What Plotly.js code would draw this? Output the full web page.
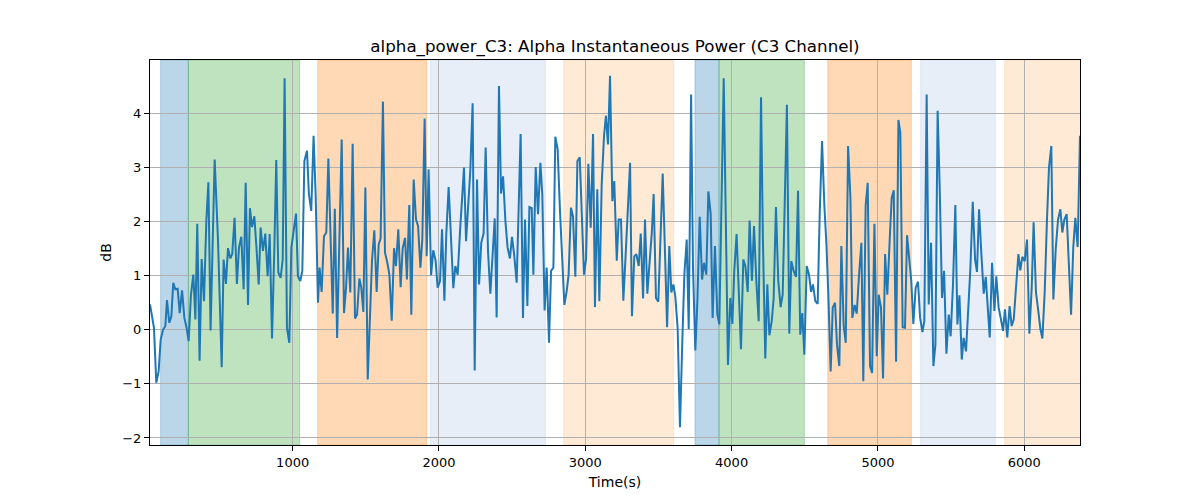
<!DOCTYPE html>
<html>
<head>
<meta charset="utf-8">
<script src="https://cdn.plot.ly/plotly-3.0.1.min.js"></script>
<style>
  html, body { margin: 0; padding: 0; background: #fff; }
  #chart { width: 1200px; height: 500px; }
</style>
</head>
<body>
<div id="chart"></div>
<script>
// time stamps (s)
const times = [
  25,52,68,84,98,114,130,141,157,171,184,198,214,228,244,260,275,289,305,321,335,348,364,378,394,410,424,439,467,490,515,528,544,558,574,587,603,619,633,649,665,
  679,695,708,722,738,754,768,781,797,813,829,843,859,875,888,902,918,932,945,961,977,991,1007,1023,1036,1052,1066,1080,1098,1111,1127,1143,1157,1173,1184,1198,1214,1230,1244,1260,1274,1288,1304,
  1335,1351,1365,1378,1394,1410,1426,1440,1456,1469,1483,1497,1513,1529,1542,1558,1574,1588,1601,1617,1631,1647,1661,1677,1693,1706,1722,1738,1752,1768,1781,1797,1811,1827,1843,1857,1873,1886,1902,1916,1929,
  1946,1961,1977,1991,2007,2021,2037,2050,2066,2082,2098,2112,2128,2144,2157,2171,2185,2201,2214,2230,2244,2260,2274,2289,2305,2319,2335,2351,2367,2381,2394,2410,2424,2438,2454,2469,2485,2499,2515,2531,2558,2574,
  2588,2604,2618,2634,2645,2661,2677,2693,2706,2722,2736,2752,2766,2782,2795,2811,2827,2843,2857,2873,2886,2902,2916,2932,2946,2962,2977,2991,3005,3021,3037,3053,3066,3082,3096,3112,3128,3141,3155,3169,3185,3198,
  3215,3228,3244,3260,3276,3292,3306,3319,3335,3349,3365,3379,3395,3408,3424,3440,3454,3467,3483,3499,3513,3529,3545,3559,3574,3588,3602,3615,3631,3647,3663,3677,3693,3707,3723,3736,3752,3766,3782,3798,3811,3827,3841,
  3857,3870,3886,3902,3916,3946,3959,3975,3991,4005,4018,4034,4048,4064,4080,4094,4110,4123,4139,4153,4169,4185,4201,4214,4230,4244,4258,4274,4287,4303,4319,4335,4349,4362,4378,4394,4408,4424,4440,4454,4469,4483,
  4497,4513,4529,4543,4556,4572,4588,4602,4618,4634,4648,4661,4677,4691,4707,4720,4736,4750,4766,4780,4796,4812,4825,4841,4855,4871,4887,4900,4916,4930,4946,4960,4976,4992,5005,5021,5035,5049,5064,5080,5094,5108,
  5124,5140,5153,5169,5185,5199,5215,5228,5242,5258,5274,5288,5304,5317,5333,5347,5363,5379,5393,5408,5422,5438,5452,5468,5484,5497,5513,5529,5543,5557,5573,5586,5602,5616,5632,5648,5664,5677,5691,5707,5723,5737,5752,
  5764,5780,5796,5809,5825,5839,5855,5868,5884,5900,5914,5928,5944,5960,5973,5987,6003,6019,6035,6051,6064,6080,6096,6110,6124,6140,6155,6169,6185,6199,6215,6231,6247,6260,6274,6290,6304,6320,6335,6349,6365,6381
]

// alpha power (dB)
const power = [
  0.47,0.04,-0.98,-0.77,-0.18,0.0,0.07,0.55,0.13,0.25,0.87,0.75,0.76,0.31,0.73,0.22,0.04,-0.21,0.65,1.02,0.19,1.96,-0.57,1.31,0.53,2.01,2.73,-0.01,3.15,1.64,-0.69,1.30,0.85,1.51,1.32,1.40,2.07,0.85,1.52,1.72,0.75,
  2.72,0.46,2.25,1.90,2.10,1.46,0.84,1.89,1.46,1.78,0.99,1.77,-0.16,1.52,3.14,1.06,0.96,1.30,4.65,0.04,-0.24,1.52,1.89,2.15,0.99,0.90,1.09,3.12,3.31,2.51,2.20,3.59,2.51,0.50,1.15,0.70,1.73,1.80,3.17,1.40,0.30,2.24,-0.15,
  3.52,0.31,0.78,1.52,0.69,3.44,0.21,0.28,0.95,0.78,0.33,2.63,-0.92,0.28,1.27,1.84,0.70,1.58,1.69,4.22,1.43,1.24,1.02,0.17,1.51,1.18,1.86,0.79,1.51,1.70,0.93,2.31,0.28,2.78,2.04,1.92,1.15,1.67,3.91,1.36,2.97,
  1.01,1.47,1.28,0.78,0.90,1.86,0.54,1.77,2.64,1.64,0.77,1.18,1.02,1.83,2.44,3.00,1.64,2.38,2.94,4.19,-0.75,2.78,0.84,1.61,1.78,3.37,1.46,0.67,1.40,2.06,0.23,4.51,2.52,2.84,2.01,1.52,1.32,1.72,1.36,0.87,3.62,0.22,
  2.04,0.44,2.27,2.25,1.02,3.01,2.14,3.09,2.51,0.36,1.15,-0.24,1.09,1.15,3.57,3.34,2.20,1.09,0.46,0.72,1.02,2.26,2.10,0.98,3.12,3.19,2.20,1.02,1.30,3.07,1.89,3.62,0.42,2.60,0.53,2.69,3.59,3.96,3.43,4.70,2.38,2.75,
  1.28,2.04,2.04,0.54,1.40,2.38,3.09,0.25,1.36,1.40,1.18,1.78,0.58,2.04,0.67,1.27,1.77,2.51,0.59,0.52,1.49,2.89,1.40,0.05,1.55,0.69,0.84,0.62,0.04,-1.80,-0.21,1.02,1.67,0.01,4.35,1.15,-0.38,0.53,2.09,0.93,1.24,1.02,2.56,
  2.14,0.22,1.55,0.30,0.10,4.65,2.01,-0.65,0.59,0.11,1.09,1.77,0.78,-0.36,1.30,1.18,0.70,2.02,0.91,1.92,0.90,0.16,4.30,1.64,-0.53,0.84,-0.10,0.16,0.56,2.27,0.90,0.42,0.65,2.51,4.16,-0.07,1.27,1.09,0.98,2.57,-0.09,0.31,
  -0.46,1.18,1.02,0.70,0.84,0.53,0.48,2.14,3.49,2.29,1.58,0.65,-0.77,0.41,0.50,-0.27,-0.67,1.55,0.07,-0.24,3.40,2.44,0.22,0.46,0.30,1.02,1.61,-0.95,2.29,2.72,-0.67,-0.80,1.96,-0.49,0.65,0.41,-0.90,1.40,0.65,1.64,2.44,2.58,
  -0.59,3.88,3.65,0.05,0.04,1.75,1.30,0.90,0.11,0.78,0.89,0.23,-0.04,0.16,4.35,0.47,1.61,-0.67,-0.27,4.05,2.64,0.59,1.09,-0.44,0.28,-0.12,0.84,2.31,0.10,0.64,-0.55,-0.15,-0.40,0.28,1.15,2.37,1.30,1.07,2.23,1.40,0.67,0.98,0.22,
  -0.14,1.24,0.35,0.99,0.41,0.22,-0.02,0.38,-0.14,0.44,0.07,0.19,0.75,1.40,1.10,1.35,1.27,1.67,-0.07,0.78,1.99,0.69,0.35,0.02,-0.16,0.72,2.01,3.00,3.40,0.56,1.49,2.04,2.23,1.80,2.04,2.14,1.27,0.28,1.52,2.07,1.53,3.59
]

// shaded epochs
const spanStart = [98, 287, 1171, 1941, 2852, 3750, 3914, 4657, 5292, 5866]
const spanEnd   = [287, 1048, 1916, 2727, 3604, 3914, 4497, 5228, 5802, 6400]
const spanColor = [
  'rgba(31,119,180,0.3)', 'rgba(44,160,44,0.3)', 'rgba(255,127,14,0.3)', 'rgba(174,199,232,0.3)', 'rgba(255,187,120,0.3)',
  'rgba(31,119,180,0.3)', 'rgba(44,160,44,0.3)', 'rgba(255,127,14,0.3)', 'rgba(174,199,232,0.3)', 'rgba(255,187,120,0.3)'
]

const shapes = spanStart.map(function(s, i) {
  return {
    type: 'rect', xref: 'x', yref: 'paper',
    x0: s, x1: spanEnd[i], y0: 0, y1: 1,
    fillcolor: spanColor[i],
    line: {color: spanColor[i], width: 1},
    layer: 'below'
  }
})

const trace = {
  x: times,
  y: power,
  type: 'scatter',
  mode: 'lines',
  line: {color: '#1f77b4', width: 2},
  hoverinfo: 'x+y'
}

const font = 'DejaVu Sans, sans-serif'
const layout = {
  width: 1200,
  height: 500,
  margin: {l: 150, r: 120, t: 60, b: 55},
  paper_bgcolor: '#fff',
  plot_bgcolor: 'rgba(0,0,0,0)',
  font: {family: font, size: 14, color: '#000'},
  showlegend: false,
  title: {
    text: 'alpha_power_C3: Alpha Instantaneous Power (C3 Channel)',
    font: {family: font, size: 16.7, color: '#000'},
    x: 0.5, xref: 'paper',
    y: 0.908, yref: 'container', yanchor: 'middle'
  },
  xaxis: {
    range: [25, 6381],
    tickvals: [1000, 2000, 3000, 4000, 5000, 6000],
    ticks: 'outside', ticklen: 5, tickcolor: '#000',
    showgrid: true, gridcolor: '#b0b0b0', gridwidth: 1,
    showline: true, mirror: true, linecolor: '#000', linewidth: 1,
    zeroline: false,
    tickfont: {family: font, size: 13},
    title: {text: 'Time(s)', font: {family: font, size: 14}, standoff: 8}
  },
  yaxis: {
    range: [-2.13, 4.99],
    tickvals: [-2, -1, 0, 1, 2, 3, 4],
    ticks: 'outside', ticklen: 5, tickcolor: '#000',
    showgrid: true, gridcolor: '#b0b0b0', gridwidth: 1,
    showline: true, mirror: true, linecolor: '#000', linewidth: 1,
    zeroline: false,
    tickfont: {family: font, size: 13},
    title: {text: 'dB', font: {family: font, size: 14}, standoff: 7}
  },
  shapes: shapes
}

Plotly.newPlot('chart', [trace], layout, {displayModeBar: false, staticPlot: true})
</script>
</body>
</html>
